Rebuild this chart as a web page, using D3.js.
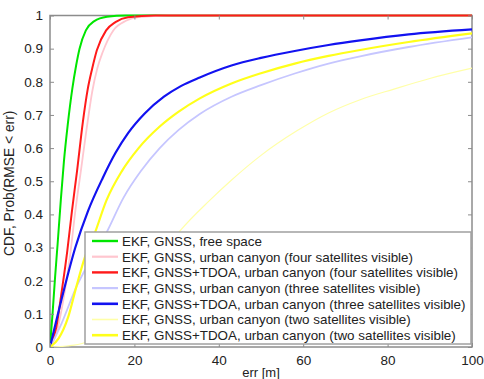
<!DOCTYPE html>
<html>
<head>
<meta charset="utf-8">
<script src="https://cdn.jsdelivr.net/npm/d3@7"></script>
<style>
  html, body { margin: 0; padding: 0; background: #fff; }
  svg { display: block; font-family: "Liberation Sans", Arial, sans-serif; }
</style>
</head>
<body>
<svg id="chart" width="484" height="379"></svg>
<script>
// Tick values
const xTicks = [0, 20, 40, 60, 80, 100];
const yTicks = [0, 0.1, 0.2, 0.3, 0.4, 0.5, 0.6, 0.7, 0.8, 0.9, 1];

// Series names (legend order)
const seriesNames = [
  "EKF, GNSS, free space",
  "EKF, GNSS, urban canyon (four satellites visible)",
  "EKF, GNSS+TDOA, urban canyon (four satellites visible)",
  "EKF, GNSS, urban canyon (three satellites visible)",
  "EKF, GNSS+TDOA, urban canyon (three satellites visible)",
  "EKF, GNSS, urban canyon (two satellites visible)",
  "EKF, GNSS+TDOA, urban canyon (two satellites visible)"
];

// Error values [m] and CDF values for each series
const freeErr   = [0, 0.6, 1.2, 1.8, 2.6, 3.3, 4.2, 5.3, 6.2, 7.0, 8.5, 10.5, 13.5, 18, 100];
const freeCdf   = [0, 0.10, 0.21, 0.31, 0.45, 0.56, 0.67, 0.78, 0.85, 0.90, 0.955, 0.983, 0.996, 1, 1];

const gnss4Err  = [0, 1.5, 3.0, 4.9, 6.0, 7.3, 8.7, 10.0, 11.2, 12.5, 15.0, 18, 21, 28, 100];
const gnss4Cdf  = [0, 0.04, 0.13, 0.29, 0.41, 0.53, 0.66, 0.77, 0.84, 0.89, 0.955, 0.984, 0.995, 1, 1];

const tdoa4Err  = [0, 1.5, 2.8, 4.1, 5.2, 6.4, 7.8, 8.9, 10.0, 11.1, 13.3, 15.5, 18.5, 25, 100];
const tdoa4Cdf  = [0, 0.06, 0.17, 0.29, 0.41, 0.53, 0.68, 0.775, 0.84, 0.895, 0.955, 0.98, 0.995, 1, 1];

const gnss3Err  = [0, 2.7, 6.2, 9.5, 13.3, 17.4, 21.5, 26, 30.5, 35.5, 43, 50, 58, 66, 73.5, 85, 100];
const gnss3Cdf  = [0, 0.07, 0.18, 0.26, 0.343, 0.45, 0.53, 0.60, 0.655, 0.703, 0.755, 0.79, 0.825, 0.855, 0.877, 0.905, 0.934];

const tdoa3Err  = [0, 2.7, 6.0, 9.0, 12.5, 15.5, 18.5, 22.5, 27, 31, 35.5, 43, 50, 58, 66, 73.5, 85, 100];
const tdoa3Cdf  = [0, 0.142, 0.30, 0.41, 0.51, 0.585, 0.645, 0.705, 0.755, 0.787, 0.813, 0.849, 0.872, 0.893, 0.911, 0.925, 0.943, 0.958];

const gnss2Err  = [0, 4, 8, 12, 15, 22, 30.8, 37.9, 42.7, 50, 58.5, 66, 73.5, 81.5, 90, 100];
const gnss2Cdf  = [0, 0.003, 0.012, 0.045, 0.08, 0.19, 0.35, 0.443, 0.50, 0.578, 0.652, 0.706, 0.746, 0.778, 0.81, 0.841];

const tdoa2Err  = [0, 2.0, 4.3, 6.2, 8.2, 10.6, 13.4, 17, 21, 26, 30.5, 35.5, 43, 50, 58, 66, 73.5, 85, 100];
const tdoa2Cdf  = [0, 0.025, 0.09, 0.18, 0.268, 0.343, 0.443, 0.53, 0.60, 0.665, 0.71, 0.75, 0.795, 0.826, 0.855, 0.878, 0.896, 0.92, 0.946];

const seriesColors = ["#00e600", "#ffc6cf", "#ff1a1a", "#c6c6ff", "#1212f0", "#ffffa8", "#ffff1a"];
const seriesWidths = [2, 1.8, 2, 1.8, 2.2, 1.2, 2.2];

const seriesErr = [freeErr, gnss4Err, tdoa4Err, gnss3Err, tdoa3Err, gnss2Err, tdoa2Err];
const seriesCdf = [freeCdf, gnss4Cdf, tdoa4Cdf, gnss3Cdf, tdoa3Cdf, gnss2Cdf, tdoa2Cdf];

const svg = d3.select("#chart");
const plotL = 50, plotR = 472, plotT = 15.5, plotB = 347;

const x = d3.scaleLinear().domain([0, 100]).range([plotL, plotR]);
const y = d3.scaleLinear().domain([0, 1]).range([plotB, plotT]);

svg.append("defs").append("clipPath").attr("id", "plotclip")
  .append("rect").attr("x", plotL).attr("y", plotT - 2)
  .attr("width", plotR - plotL).attr("height", plotB - plotT + 2);

const frameColor = "#8c8c8c";
const tickLen = 4;

// Plot frame (curves sitting at 1 are drawn over its top edge)
svg.append("rect")
  .attr("x", plotL).attr("y", plotT)
  .attr("width", plotR - plotL).attr("height", plotB - plotT)
  .attr("fill", "none").attr("stroke", frameColor).attr("stroke-width", 1.5);

// Curves, in plotting order (later series on top)
const line = d3.line().x(d => x(d[0])).y(d => y(d[1])).curve(d3.curveMonotoneX);
const curves = svg.append("g").attr("clip-path", "url(#plotclip)");
seriesNames.forEach((name, i) => {
  const pts = seriesErr[i].map((e, k) => [e, seriesCdf[i][k]]);
  curves.append("path")
    .attr("d", line(pts))
    .attr("fill", "none")
    .attr("stroke", seriesColors[i])
    .attr("stroke-width", seriesWidths[i])
    .attr("stroke-linejoin", "round");
});

// Axes: bottom/left with labels, top/right with inner ticks only
const axB = svg.append("g").attr("transform", `translate(0,${plotB})`)
  .call(d3.axisBottom(x).tickValues(xTicks).tickSizeInner(-tickLen).tickSizeOuter(0).tickPadding(8).tickFormat(d3.format("d")));
const axT = svg.append("g").attr("transform", `translate(0,${plotT})`)
  .call(d3.axisTop(x).tickValues(xTicks).tickSizeInner(-tickLen).tickSizeOuter(0).tickFormat(""));
const axL = svg.append("g").attr("transform", `translate(${plotL},0)`)
  .call(d3.axisLeft(y).tickValues(yTicks).tickSizeInner(-tickLen).tickSizeOuter(0).tickPadding(7).tickFormat(d => d === 0 || d === 1 ? String(d) : d.toFixed(1)));
const axR = svg.append("g").attr("transform", `translate(${plotR},0)`)
  .call(d3.axisRight(y).tickValues(yTicks).tickSizeInner(-tickLen).tickSizeOuter(0).tickFormat(""));

[axB, axT, axL, axR].forEach(g => {
  g.select(".domain").remove();
  g.selectAll(".tick line").attr("stroke", frameColor).attr("stroke-width", 1);
  g.selectAll(".tick text").attr("fill", "#222").style("font-size", "13.5px")
    .style("font-family", "'Liberation Sans', Arial, sans-serif");
});

// Axis titles
svg.append("text")
  .attr("x", (plotL + plotR) / 2).attr("y", 377)
  .attr("text-anchor", "middle")
  .style("font-size", "13px").attr("fill", "#222")
  .text("err [m]");
svg.append("text")
  .attr("transform", `translate(14,${(plotT + plotB) / 2 + 2}) rotate(-90)`)
  .attr("text-anchor", "middle")
  .style("font-size", "13.8px").attr("fill", "#222")
  .text("CDF, Prob(RMSE < err)");

// Legend
const lg = svg.append("g");
const lgX = 85, lgY = 232, lgW = 386, lgH = 112, rowH = 15.7;
lg.append("rect").attr("x", lgX).attr("y", lgY).attr("width", lgW).attr("height", lgH)
  .attr("fill", "#fff").attr("stroke", "#a0a0a0").attr("stroke-width", 1.5);
seriesNames.forEach((name, i) => {
  const cy = lgY + 9 + i * rowH;
  lg.append("line").attr("x1", lgX + 7).attr("x2", lgX + 33)
    .attr("y1", cy).attr("y2", cy)
    .attr("stroke", seriesColors[i]).attr("stroke-width", seriesWidths[i] + 0.4);
  lg.append("text").attr("x", lgX + 37).attr("y", cy + 4.8)
    .style("font-size", "13.4px").attr("fill", "#222")
    .text(name);
});
</script>
</body>
</html>
